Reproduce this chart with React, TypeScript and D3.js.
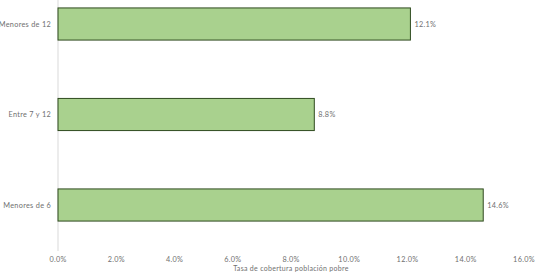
import React from "react";
import * as d3 from "d3";

// chart data
const categories = ["Menores de 12", "Entre 7 y 12", "Menores de 6"];
const values = [0.121, 0.088, 0.146];
const xTicks = [0, 0.02, 0.04, 0.06, 0.08, 0.1, 0.12, 0.14, 0.16];
const axisTitle = "Tasa de cobertura población pobre";

const W = 547;
const H = 279;

const App: React.FC = () => {
	const x = d3.scaleLinear().domain([0, 0.16]).range([58, 524]);
	const y = d3
		.scaleBand<string>()
		.domain(categories)
		.range([-21.25, 250.25])
		.paddingInner(0.645)
		.paddingOuter(0.3225);

	const pct = d3.format(".1%");
	const font = "Lato, 'Open Sans', sans-serif";
	const textColor = "#6f6f6f";

	return (
		<svg
			width={W}
			height={H}
			style={{ position: "absolute", left: 0, top: 0, background: "#fff" }}
			fontFamily={font}
			letterSpacing={0.3}
		>
			{/* vertical axis line */}
			<line x1={x(0)} x2={x(0)} y1={0} y2={251} stroke="#d9d9d9" strokeWidth={1} />

			{categories.map((c, i) => {
				const by = y(c) as number;
				const bh = y.bandwidth();
				return (
					<g key={c}>
						<rect
							x={x(0)}
							y={by}
							width={x(values[i]) - x(0)}
							height={bh}
							fill="#a9d18e"
							stroke="#2f4a1f"
							strokeWidth={1}
						/>
						<text
							x={x(values[i]) + 4}
							y={by + bh / 2}
							dy="0.35em"
							fontSize={7.3}
							fill={textColor}
						>
							{pct(values[i])}
						</text>
						<text
							x={51}
							y={by + bh / 2}
							dy="0.35em"
							textAnchor="end"
							fontSize={7.3}
							fill={textColor}
						>
							{c}
						</text>
					</g>
				);
			})}

			{xTicks.map((t) => (
				<text
					key={t}
					x={x(t)}
					y={259}
					dy="0.35em"
					textAnchor="middle"
					fontSize={7.3}
					fill={textColor}
				>
					{pct(t)}
				</text>
			))}

			<text x={291} y={269} dy="0.35em" textAnchor="middle" fontSize={7} fill={textColor}>
				{axisTitle}
			</text>
		</svg>
	);
};

export default App;
